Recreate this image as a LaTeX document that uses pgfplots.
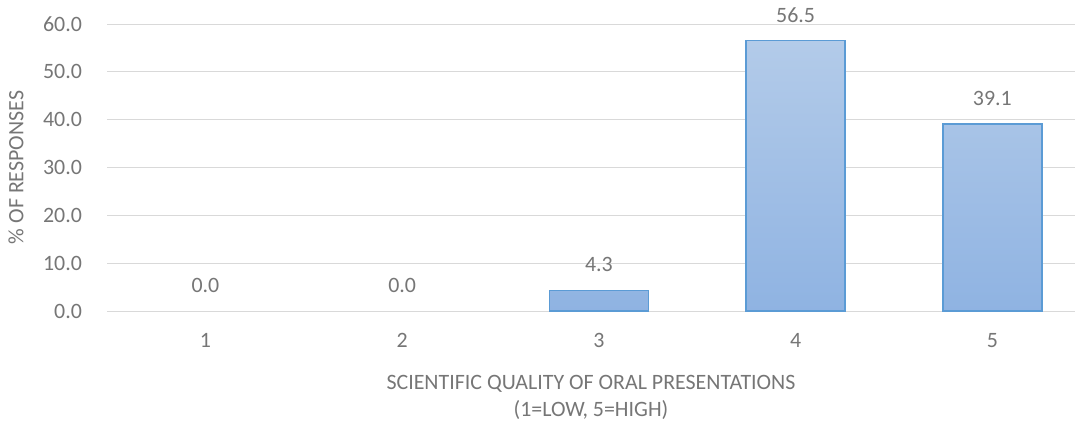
\documentclass[border=0pt]{standalone}
\usepackage{pgfplots}
\pgfplotsset{compat=1.18}
\usepackage{fontspec}
\setmainfont{Carlito}
\definecolor{txt}{HTML}{767676}
\definecolor{gridc}{HTML}{D9D9D9}
\definecolor{bartop}{HTML}{B3CBE9}
\definecolor{barbot}{HTML}{8FB3E2}
\definecolor{baredge}{HTML}{5B9BD5}
\begin{document}
\begin{tikzpicture}
\begin{axis}[
  at={(107bp,110bp)}, anchor=south west,
  scale only axis, width=968bp, height=287bp,
  xmin=0.5, xmax=5.42, ymin=0, ymax=60,
  ytick={0,10,...,60},
  xtick={1,2,3,4,5},
  axis line style={draw=none},
  tick style={draw=none},
  ymajorgrids, xmajorgrids=false, major grid style={draw=gridc, line width=1pt},
  yticklabel={\pgfmathprintnumber[fixed,fixed zerofill,precision=1]{\tick}},
  /pgf/number format/assume math mode=true,
  ticklabel style={font=\fontsize{22}{26}\selectfont, text=txt},
  yticklabel style={anchor=east, xshift=-21.5bp},
  xticklabel style={anchor=center, yshift=-25bp},
  ylabel={\% OF RESPONSES},
  ylabel style={font=\fontsize{22}{26}\selectfont, text=txt, at={(axis description cs:-0.094,0.5)}, anchor=center},
  xlabel={SCIENTIFIC QUALITY OF ORAL PRESENTATIONS\\(1=LOW, 5=HIGH)},
  xlabel style={font=\fontsize{22}{27}\selectfont, text=txt, align=center, at={(axis description cs:0.5,0)}, anchor=north, yshift=-61bp},
  ybar, bar width=99bp, bar shift=0pt,
  nodes near coords,
  nodes near coords style={font=\fontsize{22}{26}\selectfont, text=txt, yshift=15bp, /pgf/number format/.cd, fixed, fixed zerofill, precision=1, assume math mode=true},
  clip=false,
]
\addplot[draw=none, fill=none]
  coordinates {(1,0) (2,0) (3,4.3) (4,56.5) (5,39.1)};
\addplot[draw=baredge, line width=1.4pt, top color=bartop, bottom color=barbot, nodes near coords={}]
  coordinates {(3,4.3) (4,56.5) (5,39.1)};
\end{axis}
\pgfresetboundingbox
\useasboundingbox (0,0) rectangle (1086bp,421bp);
\end{tikzpicture}
\end{document}
